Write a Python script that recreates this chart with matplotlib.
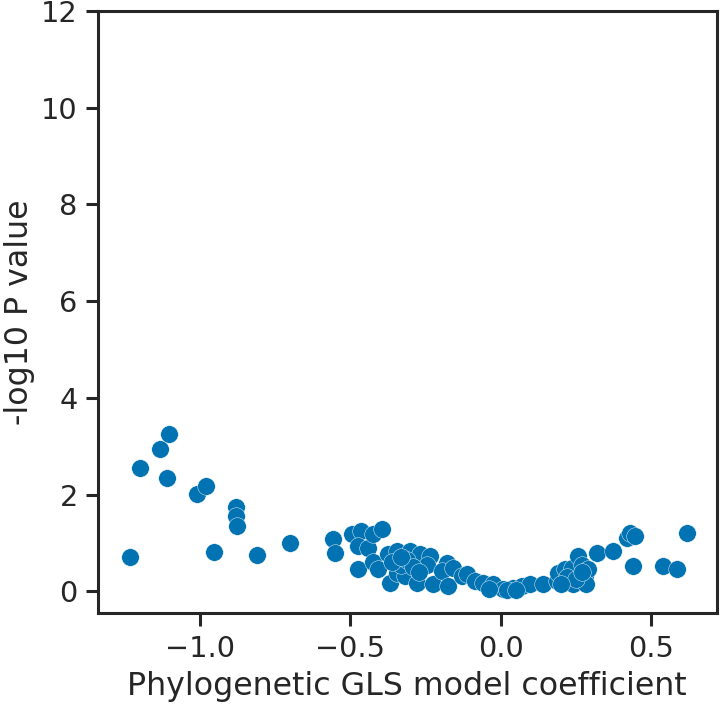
import numpy as np
import matplotlib
matplotlib.use("Agg")
from matplotlib import pyplot as plt

# GLS coefficient (x) vs -log10 P (y)
coef = [-1.232, -1.199, -1.131, -1.103, -1.111, -1.009, -0.980, -0.952,
        -0.879, -0.879, -0.877, -0.811, -0.701, -0.559, -0.551, -0.496,
        -0.466, -0.474, -0.440, -0.424, -0.394, -0.475, -0.424, -0.408,
        -0.374, -0.346, -0.302, -0.268, -0.235, -0.368, -0.346, -0.318,
        -0.279, -0.246, -0.224, -0.180, -0.196, -0.158, -0.174, -0.130,
        -0.113, -0.085, -0.058, -0.025, 0.009, 0.042, 0.070, 0.097,
        0.142, 0.186, 0.192, 0.214, 0.236, 0.241, 0.258, 0.269,
        0.280, 0.291, 0.284, 0.319, 0.374, 0.419, 0.430, 0.447,
        0.441, 0.541, 0.585, 0.619,
        -0.33, -0.31, -0.29, -0.36, -0.33, -0.27, 0.02, -0.04,
        0.05, 0.22, 0.25, 0.20, 0.27]
logp = [0.70, 2.55, 2.95, 3.26, 2.35, 2.02, 2.17, 0.81,
        1.75, 1.56, 1.34, 0.74, 1.00, 1.08, 0.79, 1.18,
        1.24, 0.94, 0.90, 1.19, 1.29, 0.46, 0.61, 0.47,
        0.76, 0.83, 0.83, 0.76, 0.72, 0.17, 0.38, 0.31,
        0.17, 0.55, 0.14, 0.59, 0.41, 0.48, 0.10, 0.31,
        0.35, 0.21, 0.17, 0.14, 0.04, 0.07, 0.10, 0.14,
        0.14, 0.21, 0.38, 0.45, 0.48, 0.14, 0.72, 0.55,
        0.31, 0.45, 0.14, 0.79, 0.83, 1.10, 1.21, 1.15,
        0.52, 0.53, 0.46, 1.21,
        0.55, 0.65, 0.50, 0.60, 0.70, 0.40, 0.02, 0.05,
        0.03, 0.30, 0.25, 0.15, 0.40]

yticks = [0, 2, 4, 6, 8, 10, 12]
xticks = [-1.0, -0.5, 0.0, 0.5]

plt.rcParams['font.family'] = ['DejaVu Sans']
ink = '#262626'

fig = plt.figure(figsize=(7.2, 7.05), dpi=100)
ax = fig.add_axes([0.136, 0.1305, 0.8594, 0.854])

ax.scatter(coef, logp, s=160, color='#0173b2', edgecolor='white', linewidth=0.3, zorder=3)

ax.set_xlim(-1.339, 0.718)
ax.set_ylim(-0.45, 12)
ax.set_xticks(xticks)
ax.set_yticks(yticks)
ax.set_xticklabels(['\u22121.0', '\u22120.5', '0.0', '0.5'])

ax.set_xlabel('Phylogenetic GLS model coefficient', fontsize=22.8, color=ink)
ax.set_ylabel('-log10 P value', fontsize=22.8, color=ink)
ax.xaxis.set_label_coords(0.5, -0.096)
ax.yaxis.set_label_coords(-0.102, 0.5)
ax.tick_params(labelsize=20.7, width=2.2, colors=ink)
ax.tick_params(axis='x', length=9.5, pad=6)
ax.tick_params(axis='y', length=8.6, pad=6)
for sp in ax.spines.values():
    sp.set_linewidth(2.2)
    sp.set_color(ink)

fig.savefig('out.png', dpi=100)
